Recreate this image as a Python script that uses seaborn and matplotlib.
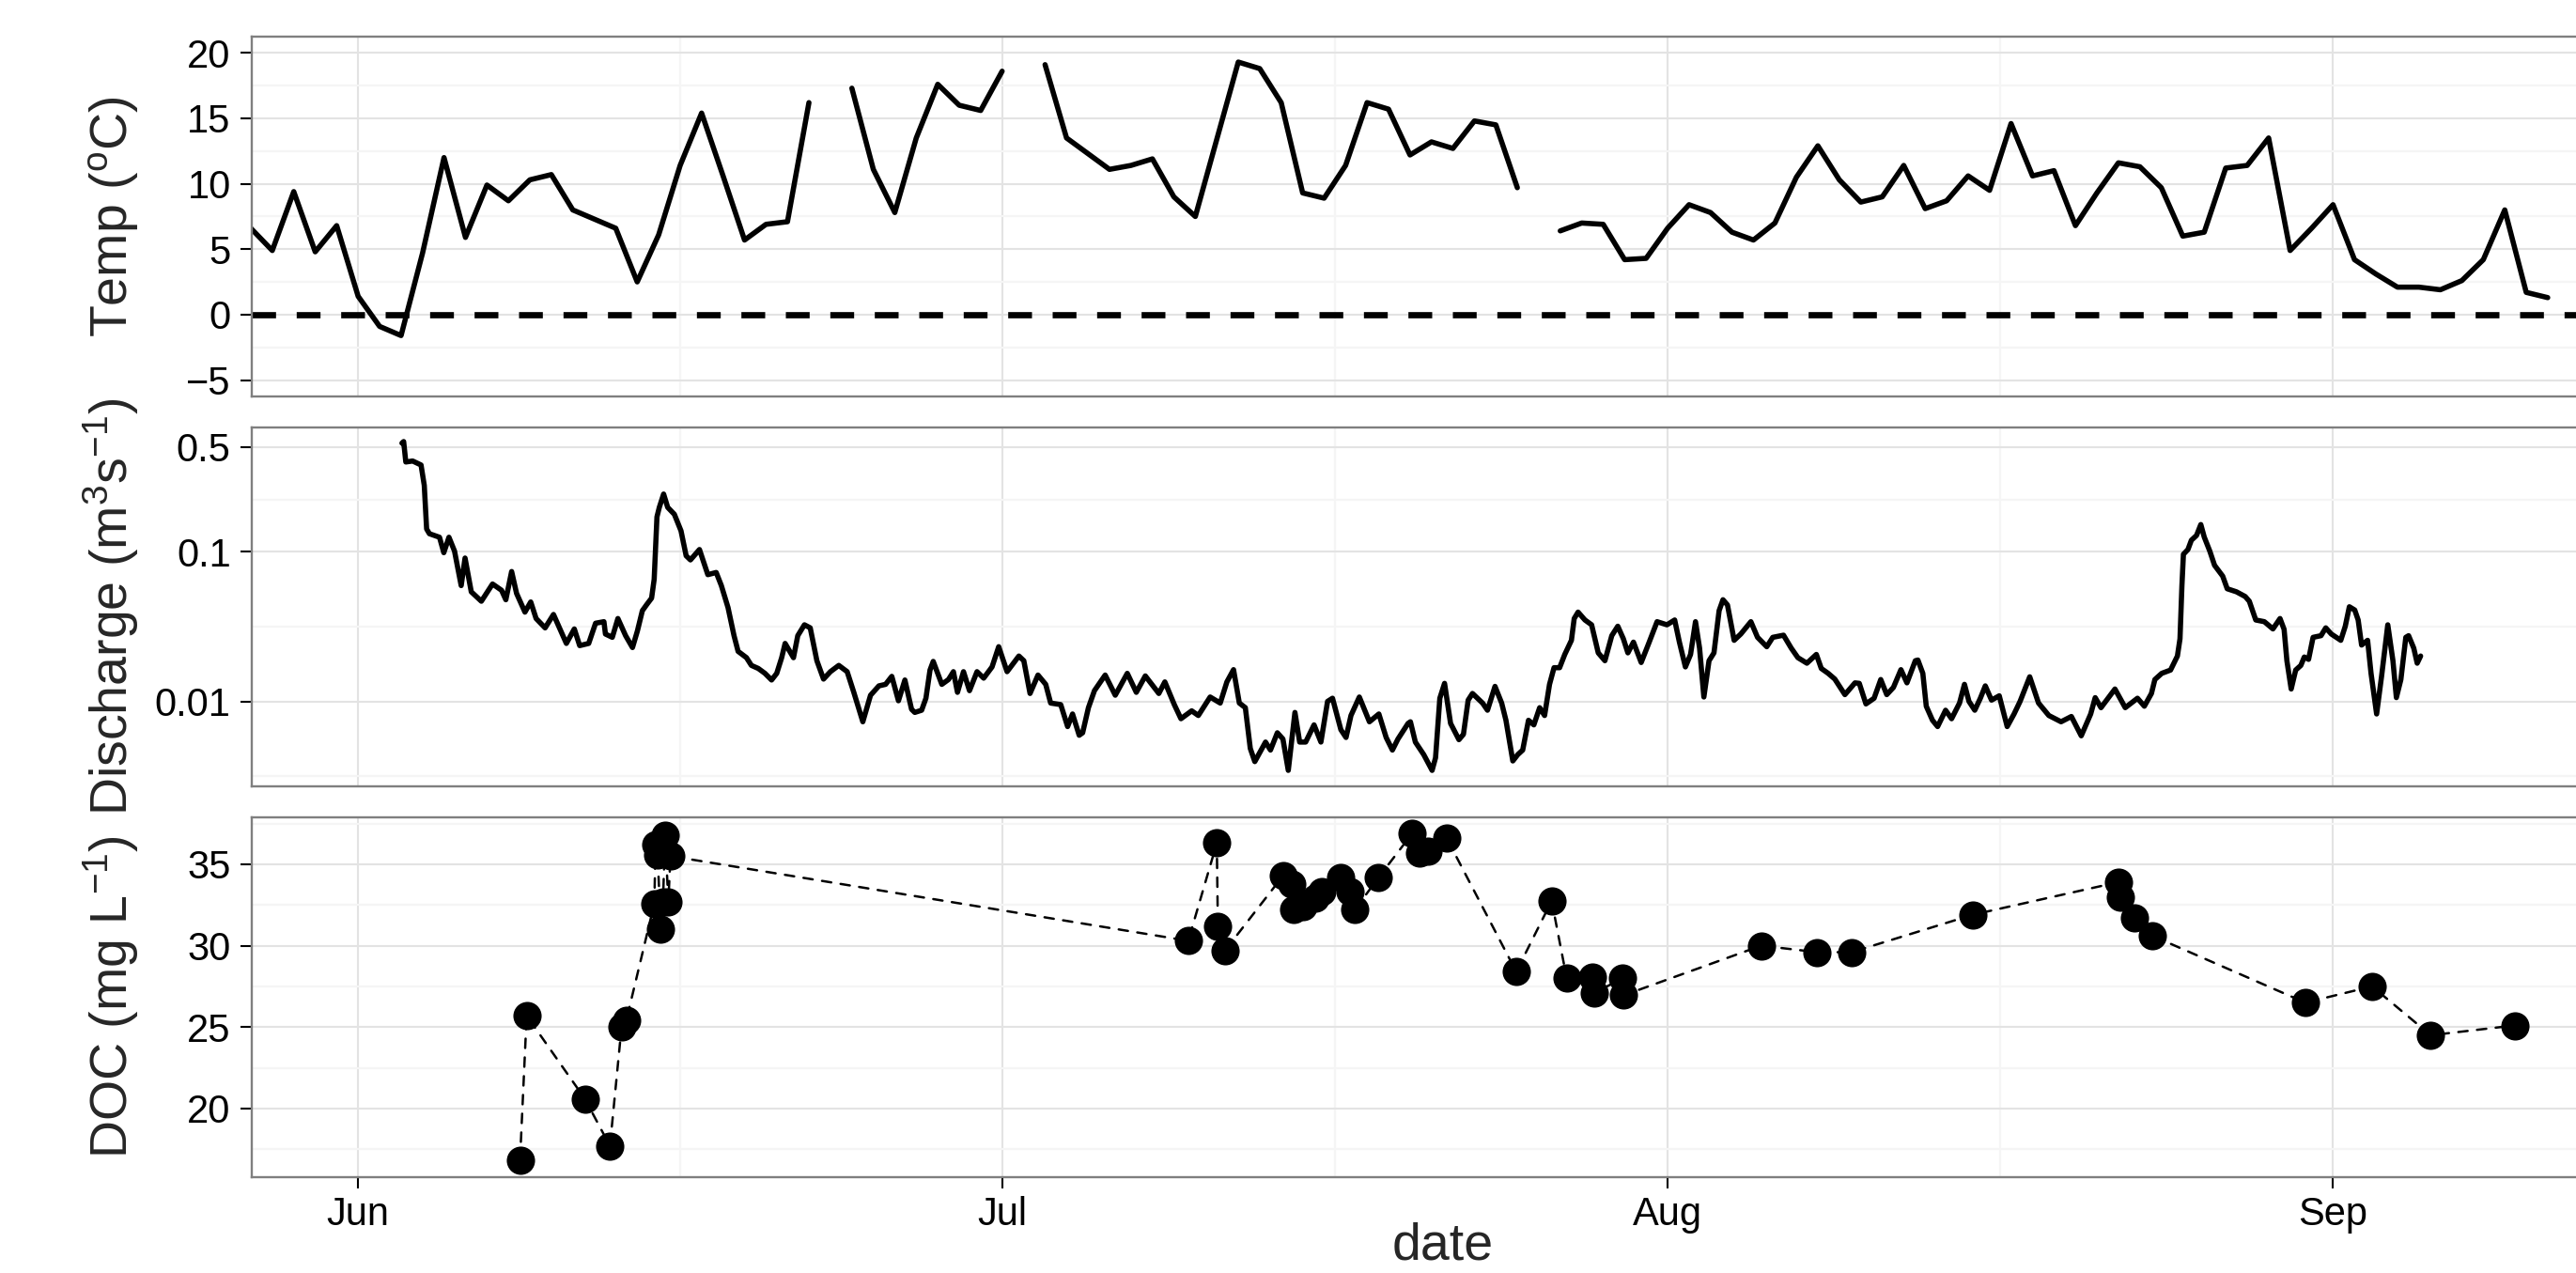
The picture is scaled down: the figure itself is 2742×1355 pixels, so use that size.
import numpy as np
import pandas as pd
import matplotlib
matplotlib.use('Agg')
import matplotlib.pyplot as plt
import matplotlib.dates as mdates
import matplotlib.ticker as mticker
import seaborn as sns

# daily stream temperature from 27 May, None = no record that day
temp_start = '2013-05-27'
temp_vals = [6.6, 4.9, 9.4, 4.8, 6.8, 1.4, -0.9, -1.6, 4.7, 12.0,
             5.9, 9.9, 8.7, 10.3, 10.7, 8.0, 7.3, 6.6, 2.5, 6.1,
             11.4, 15.4, 10.6, 5.7, 6.9, 7.1, 16.2, None, 17.3, 11.1,
             7.8, 13.5, 17.6, 16.0, 15.6, 18.6, None, 19.1, 13.5, 12.3,
             11.1, 11.4, 11.9, 9.0, 7.5, 13.4, 19.3, 18.8, 16.2, 9.3,
             8.9, 11.4, 16.2, 15.7, 12.2, 13.2, 12.7, 14.8, 14.5, 9.7,
             None, 6.4, 7.0, 6.9, 4.2, 4.3, 6.6, 8.4, 7.8, 6.3,
             5.7, 7.0, 10.5, 12.9, 10.3, 8.6, 9.0, 11.4, 8.1, 8.7,
             10.6, 9.5, 14.6, 10.6, 11.0, 6.8, 9.3, 11.6, 11.3, 9.7,
             6.0, 6.3, 11.2, 11.4, 13.5, 4.9, 6.6, 8.4, 4.2, 3.1,
             2.1, 2.1, 1.9, 2.6, 4.2, 8.0, 1.7, 1.3]

# discharge (m3/s), time as days after 1 June
q_day = [2.04, 2.12, 2.22, 2.54, 2.93, 3.08, 3.19, 3.32, 3.79, 3.99,
         4.23, 4.49, 4.80, 4.98, 5.27, 5.74, 6.26, 6.68, 6.88, 7.15,
         7.38, 7.77, 8.04, 8.29, 8.71, 9.10, 9.70, 10.07, 10.32, 10.74,
         11.06, 11.45, 11.52, 11.84, 12.10, 12.46, 12.78, 13.01, 13.24, 13.45,
         13.67, 13.79, 13.92, 14.03, 14.23, 14.42, 14.73, 15.04, 15.28, 15.48,
         15.90, 16.29, 16.68, 16.92, 17.23, 17.51, 17.70, 18.09, 18.32, 18.64,
         18.95, 19.26, 19.50, 19.73, 19.89, 20.28, 20.48, 20.79, 21.06, 21.37,
         21.68, 22.00, 22.39, 22.78, 23.09, 23.51, 23.87, 24.26, 24.57, 24.86,
         25.17, 25.47, 25.78, 25.93, 26.25, 26.45, 26.64, 26.79, 27.19, 27.50,
         27.73, 27.92, 28.20, 28.48, 28.83, 29.14, 29.53, 29.84, 30.23, 30.78,
         31.01, 31.30, 31.67, 32.03, 32.26, 32.73, 33.05, 33.28, 33.59, 33.75,
         34.02, 34.30, 34.80, 35.27, 35.83, 36.25, 36.67, 37.30, 37.58, 38.02,
         38.33, 38.83, 39.14, 39.69, 40.16, 40.47, 40.78, 41.05, 41.33, 41.56,
         41.77, 42.11, 42.27, 42.50, 42.82, 43.08, 43.33, 43.64, 43.86, 44.14,
         44.53, 44.85, 45.16, 45.39, 45.78, 46.02, 46.25, 46.64, 47.11, 47.55,
         47.89, 48.18, 48.44, 48.91, 49.02, 49.25, 49.64, 50.03, 50.19, 50.39,
         50.61, 50.89, 51.28, 51.49, 51.71, 51.91, 52.38, 52.61, 52.96, 53.27,
         53.47, 53.79, 54.02, 54.25, 54.52, 54.77, 55.04, 55.27, 55.50, 55.71,
         55.97, 56.21, 56.52, 56.65, 56.83, 57.15, 57.46, 57.77, 58.08, 58.40,
         58.68, 58.94, 59.15, 59.41, 59.77, 60.12, 60.51, 60.97, 61.33, 61.55,
         61.83, 62.07, 62.30, 62.49, 62.69, 62.93, 63.16, 63.40, 63.58, 63.79,
         64.10, 64.41, 64.88, 65.19, 65.62, 65.90, 66.40, 66.76, 67.07, 67.49,
         67.93, 68.16, 68.48, 68.79, 69.26, 69.73, 69.93, 70.24, 70.62, 70.93,
         71.21, 71.52, 71.87, 72.15, 72.54, 72.66, 72.89, 73.05, 73.34, 73.58,
         73.95, 74.23, 74.60, 74.83, 75.04, 75.31, 75.57, 75.80, 76.09, 76.45,
         76.82, 77.14, 77.42, 77.87, 78.28, 78.76, 79.33, 79.81, 80.27, 80.71,
         80.92, 81.19, 81.84, 82.32, 82.89, 83.21, 83.54, 83.70, 84.02, 84.43,
         84.75, 84.87, 84.96, 85.03, 85.24, 85.40, 85.64, 85.84, 86.00, 86.26,
         86.48, 86.86, 87.07, 87.50, 87.91, 88.10, 88.40, 88.80, 89.20, 89.53,
         89.72, 89.85, 90.05, 90.26, 90.50, 90.66, 90.86, 91.07, 91.44, 91.66,
         91.92, 92.36, 92.57, 92.76, 93.01, 93.17, 93.33, 93.61, 93.77, 94.03,
         94.26, 94.55, 94.79, 94.95, 95.16, 95.39, 95.52, 95.76, 95.92, 96.08]
q_val = [0.532, 0.545, 0.398, 0.404, 0.380, 0.278, 0.142, 0.132, 0.125, 0.0986,
         0.125, 0.101, 0.0594, 0.0908, 0.0540, 0.0467, 0.0609, 0.0553, 0.0478, 0.0738,
         0.0527, 0.0395, 0.0462, 0.0358, 0.0310, 0.0381, 0.0244, 0.0305, 0.0236, 0.0244,
         0.0333, 0.0341, 0.0282, 0.0268, 0.0358, 0.0275, 0.0229, 0.0296, 0.0404, 0.0445,
         0.0490, 0.0654, 0.171, 0.198, 0.243, 0.198, 0.178, 0.138, 0.0940, 0.0882,
         0.1035, 0.0703, 0.0727, 0.0594, 0.0424, 0.0275, 0.0216, 0.0196, 0.0174, 0.0166,
         0.0154, 0.0139, 0.0154, 0.0196, 0.0244, 0.0196, 0.0275, 0.0325, 0.0310, 0.0187,
         0.0141, 0.0158, 0.0174, 0.0158, 0.0115, 0.00731, 0.0110, 0.0127, 0.0130, 0.0147,
         0.0101, 0.0139, 0.00886, 0.00844, 0.00873, 0.0105, 0.0162, 0.0185, 0.0130, 0.0140,
         0.0158, 0.0115, 0.0158, 0.0118, 0.0158, 0.0143, 0.0170, 0.0232, 0.0158, 0.0201,
         0.0187, 0.0113, 0.0150, 0.0130, 0.00975, 0.00952, 0.00679, 0.00824, 0.00594, 0.00617,
         0.00908, 0.0118, 0.0150, 0.0110, 0.0154, 0.0115, 0.0148, 0.0113, 0.0135, 0.00952,
         0.00766, 0.00865, 0.00805, 0.0107, 0.00975, 0.0135, 0.0163, 0.00975, 0.00908, 0.00485,
         0.00396, 0.00485, 0.00535, 0.00473, 0.00617, 0.00561, 0.00346, 0.00844, 0.00535, 0.00535,
         0.00697, 0.00535, 0.0100, 0.0105, 0.00647, 0.00574, 0.00805, 0.0107, 0.00731, 0.00824,
         0.00574, 0.00473, 0.00561, 0.00713, 0.00731, 0.00535, 0.00441, 0.00346, 0.00420, 0.0105,
         0.0132, 0.00713, 0.00555, 0.00603, 0.0102, 0.0113, 0.00975, 0.00873, 0.0126, 0.00975,
         0.00748, 0.00400, 0.00441, 0.00473, 0.00748, 0.00697, 0.00908, 0.00805, 0.0130, 0.0168,
         0.0168, 0.0206, 0.0256, 0.0358, 0.0395, 0.0350, 0.0325, 0.0211, 0.0187, 0.0275,
         0.0318, 0.0262, 0.0211, 0.0249, 0.0182, 0.0244, 0.0341, 0.0325, 0.0350, 0.0249,
         0.0170, 0.0206, 0.0341, 0.0227, 0.0107, 0.0187, 0.0211, 0.0404, 0.0478, 0.0441,
         0.0256, 0.0282, 0.0341, 0.0268, 0.0232, 0.0268, 0.0277, 0.0227, 0.0196, 0.0180,
         0.0206, 0.0166, 0.0154, 0.0141, 0.0111, 0.0133, 0.0132, 0.00962, 0.0105, 0.0140,
         0.0111, 0.0124, 0.0163, 0.0133, 0.0187, 0.0189, 0.0154, 0.00929, 0.00748, 0.00679,
         0.00873, 0.00766, 0.00975, 0.0130, 0.0100, 0.00873, 0.0105, 0.0127, 0.0102, 0.0109,
         0.00679, 0.00824, 0.0100, 0.0146, 0.00975, 0.00805, 0.00731, 0.00793, 0.00589, 0.00824,
         0.0106, 0.00908, 0.0121, 0.00908, 0.0105, 0.00929, 0.0113, 0.0140, 0.0154, 0.0162,
         0.0201, 0.0262, 0.0594, 0.0962, 0.1035, 0.1194, 0.1285, 0.152, 0.1254, 0.1009,
         0.0812, 0.0687, 0.0566, 0.0540, 0.0502, 0.0467, 0.0350, 0.0341, 0.0305, 0.0358,
         0.0303, 0.0187, 0.0121, 0.0162, 0.0174, 0.0198, 0.0191, 0.0268, 0.0275, 0.0310,
         0.0282, 0.0256, 0.0318, 0.0429, 0.0408, 0.0350, 0.0238, 0.0256, 0.0154, 0.00824,
         0.0147, 0.0325, 0.0187, 0.0106, 0.0140, 0.0268, 0.0275, 0.0227, 0.0180, 0.0201]

# DOC samples (mg/L), days after 1 June
doc_day = [7.54, 7.85, 10.56, 11.73, 12.27, 12.49, 13.80, 13.85, 13.95, 14.10,
           14.20, 14.30, 14.45, 14.55, 38.67, 40.00, 40.05, 40.38, 43.09, 43.50,
           43.60, 44.00, 44.60, 44.90, 45.78, 46.20, 46.43, 47.54, 49.11, 49.43,
           49.83, 50.71, 53.95, 55.60, 56.30, 57.50, 57.60, 58.90, 58.95, 65.36,
           67.97, 69.58, 75.22, 82.00, 82.10, 82.75, 83.59, 90.71, 93.82, 96.55,
           100.46]
doc_val = [16.8, 25.7, 20.6, 17.7, 25.0, 25.4, 32.6, 36.2, 35.6, 31.0,
           32.7, 36.8, 32.7, 35.5, 30.3, 36.3, 31.2, 29.7, 34.3, 33.8,
           32.2, 32.4, 32.9, 33.3, 34.2, 33.3, 32.2, 34.2, 36.9, 35.7,
           35.8, 36.6, 28.4, 32.75, 28.0, 28.1, 27.1, 28.0, 26.95, 30.0,
           29.6, 29.6, 31.9, 33.9, 33.0, 31.7, 30.6, 26.5, 27.5, 24.5,
           25.1]

jun1 = pd.Timestamp('2013-06-01')

temp = pd.DataFrame({'date': pd.date_range(temp_start, periods=len(temp_vals), freq='D'),
                     'temp': pd.to_numeric(pd.Series(temp_vals), errors='coerce')})
temp['seg'] = temp['temp'].isna().cumsum()   # break the line where data is missing
temp = temp.dropna()

flow = pd.DataFrame({'date': jun1 + pd.to_timedelta(q_day, unit='D'), 'q': q_val})
doc = pd.DataFrame({'date': jun1 + pd.to_timedelta(doc_day, unit='D'), 'doc': doc_val})

sns.set_theme(style='white')
plt.rcParams['font.family'] = ['Liberation Sans', 'DejaVu Sans']
plt.rcParams['mathtext.fontset'] = 'custom'
plt.rcParams['mathtext.rm'] = 'Liberation Sans'
plt.rcParams['mathtext.default'] = 'regular'

fig = plt.figure(figsize=(27.42, 13.55), dpi=100)
ax1 = fig.add_axes([0.0977, 0.6886, 0.9249, 0.2827])
ax2 = fig.add_axes([0.0977, 0.3823, 0.9249, 0.2819])
ax3 = fig.add_axes([0.0977, 0.0753, 0.9249, 0.2827])

# temperature
sns.lineplot(data=temp, x='date', y='temp', units='seg', estimator=None,
             color='black', lw=4.0, ax=ax1)
ax1.axhline(0, color='black', lw=4.8, linestyle=(0, (3.8, 3.3)))

# discharge
sns.lineplot(data=flow, x='date', y='q', estimator=None, color='black', lw=4.0, ax=ax2)
ax2.set_yscale('log')

# doc
sns.lineplot(data=doc, x='date', y='doc', estimator=None, sort=False, color='black',
             lw=1.8, linestyle=(0, (4, 4)), dash_capstyle='round', ax=ax3)
sns.scatterplot(data=doc, x='date', y='doc', s=470, color='black', linewidth=0,
                zorder=3, ax=ax3)

x_lo = jun1 - pd.Timedelta(days=4.96)
x_hi = jun1 + pd.Timedelta(days=106.03)
month_starts = pd.date_range('2013-05-01', '2013-10-01', freq='MS')
month_mids = month_starts[:-1] + (month_starts[1:] - month_starts[:-1]) / 2

for ax in (ax1, ax2, ax3):
    ax.set_xlim(x_lo, x_hi)
    ax.xaxis.set_major_locator(mdates.MonthLocator())
    ax.xaxis.set_major_formatter(mdates.DateFormatter('%b'))
    ax.xaxis.set_minor_locator(mticker.FixedLocator(mdates.date2num(month_mids)))
    ax.grid(True, which='major', color='#E3E3E3', lw=1.5)
    ax.grid(True, which='minor', color='#F5F5F5', lw=1.6)
    ax.set_axisbelow(True)
    for s in ax.spines.values():
        s.set_visible(True)
        s.set_color('#7F7F7F')
        s.set_linewidth(1.7)
    ax.tick_params(axis='y', which='major', left=True, direction='out', length=9,
                   width=1.5, color='black', pad=7, labelsize=30, labelcolor='black')
    ax.tick_params(which='minor', length=0, left=False, bottom=False)
    ax.set_xlabel('')

for ax in (ax1, ax2):
    ax.tick_params(axis='x', which='both', bottom=False, labelbottom=False)
ax3.tick_params(axis='x', which='major', bottom=True, direction='out', length=8.4,
                width=1.5, color='black', pad=6, labelsize=30, labelcolor='black')

ax1.set_ylim(-6.25, 21.25)
ax1.set_yticks([-5, 0, 5, 10, 15, 20])
ax1.yaxis.set_minor_locator(mticker.FixedLocator([-2.5, 2.5, 7.5, 12.5, 17.5]))

ax2.set_ylim(10 ** -2.5675, 10 ** -0.1695)
ax2.set_yticks([0.01, 0.1, 0.5], labels=['0.01', '0.1', '0.5'])
ax2.yaxis.set_minor_locator(mticker.FixedLocator([10 ** -2.5, 10 ** -1.5, 10 ** -0.65]))
ax2.yaxis.set_minor_formatter(mticker.NullFormatter())

ax3.set_ylim(15.785, 37.885)
ax3.set_yticks([20, 25, 30, 35])
ax3.yaxis.set_minor_locator(mticker.FixedLocator([17.5, 22.5, 27.5, 32.5, 37.5]))

ax1.set_ylabel('Temp ($^o$C)', fontsize=40)
ax2.set_ylabel('Discharge (m$^3$s$^{-1}$)', fontsize=40)
ax3.set_ylabel('DOC (mg L$^{-1}$)', fontsize=40)
for ax in (ax1, ax2, ax3):
    ax.yaxis.set_label_coords(-0.0465, 0.5)
ax3.set_xlabel('date', fontsize=40, labelpad=-9)

fig.savefig('out.png', dpi=100)
